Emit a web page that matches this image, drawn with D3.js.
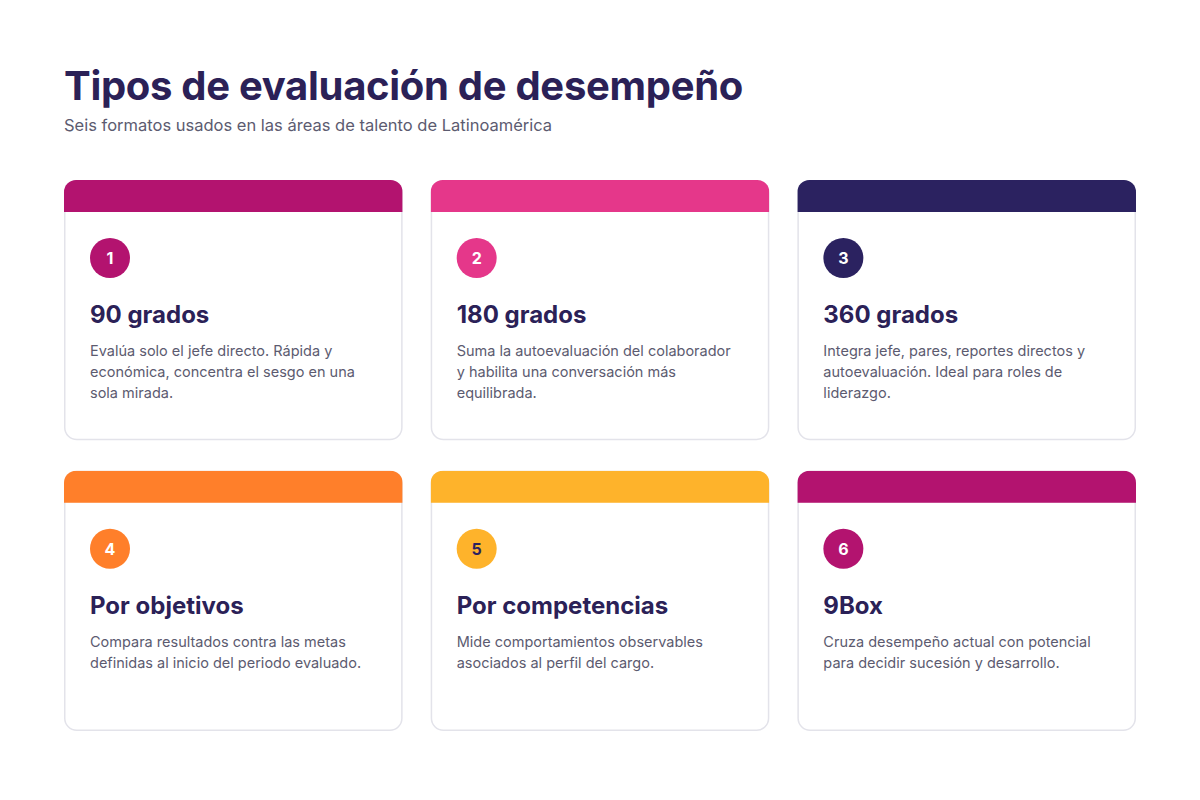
<!DOCTYPE html>
<html><head><meta charset="utf-8">
<script src="https://cdn.jsdelivr.net/npm/d3@7"></script>
<style>body{margin:0;background:#fff}</style>
</head><body><div id="chart"></div>
<script>
const numbers = ["1", "2", "3", "4", "5", "6"];
const titles = ["90 grados", "180 grados", "360 grados", "Por objetivos", "Por competencias", "9Box"];
const descriptions = [
    ["Evalúa solo el jefe directo. Rápida y", "económica, concentra el sesgo en una", "sola mirada."],
    ["Suma la autoevaluación del colaborador", "y habilita una conversación más", "equilibrada."],
    ["Integra jefe, pares, reportes directos y", "autoevaluación. Ideal para roles de", "liderazgo."],
    ["Compara resultados contra las metas", "definidas al inicio del periodo evaluado."],
    ["Mide comportamientos observables", "asociados al perfil del cargo."],
    ["Cruza desempeño actual con potencial", "para decidir sucesión y desarrollo."]
];
const colors = ["#b3136f", "#e5378a", "#2b2260", "#ff7f2a", "#feb32b", "#b3136f"];
const numColors = ["#fff", "#fff", "#fff", "#fff", "#2b2260", "#fff"];

const width = 1200, height = 800;
const svg = d3.select("#chart").append("svg")
    .attr("width", width).attr("height", height)
    .style("font-family", "Inter, 'Noto Sans', sans-serif");

svg.append("text").attr("x", 64).attr("y", 100)
    .attr("font-size", 40).attr("font-weight", 700).attr("fill", "#2b2157")
    .attr("letter-spacing", -0.3)
    .text("Tipos de evaluación de desempeño");
svg.append("text").attr("x", 64).attr("y", 131)
    .attr("font-size", 16.5).attr("fill", "#5c5b70")
    .text("Seis formatos usados en las áreas de talento de Latinoamérica");

// card grid
const x = d3.scaleBand().domain([0, 1, 2]).range([64, 1136]).paddingInner(0.0765).paddingOuter(0);
const y = d3.scaleBand().domain([0, 1]).range([180, 731]).paddingInner(0.105).paddingOuter(0);
const cw = x.bandwidth(), ch = y.bandwidth(), r = 12, band = 32;

const cards = svg.selectAll("g.card").data(d3.range(6)).enter().append("g")
    .attr("transform", i => `translate(${x(i % 3)},${y(Math.floor(i / 3))})`);

cards.append("clipPath").attr("id", i => "c" + i)
    .append("rect").attr("width", cw).attr("height", ch).attr("rx", r);
cards.append("rect").attr("x", 0.75).attr("y", 0.75).attr("width", cw - 1.5).attr("height", ch - 1.5).attr("rx", r)
    .attr("fill", "#fff").attr("stroke", "#e3e3ea").attr("stroke-width", 1.5);
cards.append("rect").attr("width", cw).attr("height", band)
    .attr("clip-path", i => `url(#c${i})`)
    .attr("fill", i => colors[i]);

cards.append("circle").attr("cx", 46).attr("cy", 78).attr("r", 20)
    .attr("fill", i => colors[i]);
cards.append("text").attr("x", 46).attr("y", 84).attr("text-anchor", "middle")
    .attr("font-size", 16).attr("font-weight", 700)
    .attr("fill", i => numColors[i]).text(i => numbers[i]);
cards.append("text").attr("x", 26).attr("y", 143)
    .attr("font-size", 24).attr("font-weight", 700).attr("fill", "#2b2157")
    .text(i => titles[i]);
cards.each(function (i) {
    d3.select(this).selectAll("text.d").data(descriptions[i]).enter().append("text")
        .attr("x", 26).attr("y", (d, k) => 176 + k * 21)
        .attr("font-size", 14.5).attr("fill", "#5c5b70")
        .text(d => d);
});
</script></body></html>
